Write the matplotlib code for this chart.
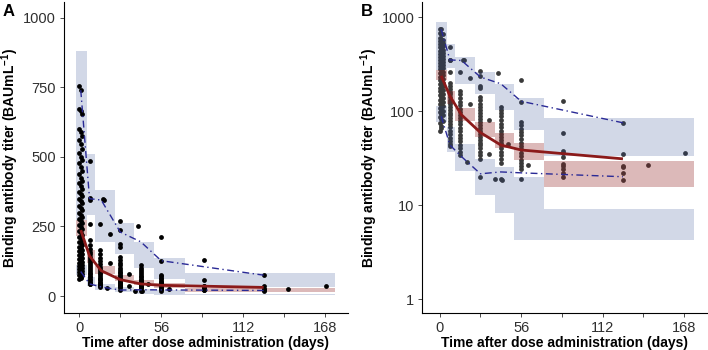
import matplotlib.pyplot as plt
from matplotlib.ticker import FixedLocator, FixedFormatter, NullLocator

plt.rcParams['font.family'] = ['Liberation Sans', 'DejaVu Sans']
plt.rcParams['mathtext.default'] = 'regular'

# VPC bins (days) and prediction-interval CIs
bin_lo = [-2.3, 5, 10.5, 24.5, 37.7, 51.4, 72]
bin_hi = [5, 10.5, 24.5, 37.7, 51.4, 72, 175]
p95_ci_lo = [275, 290, 195, 152, 102, 63, 33]
p95_ci_hi = [880, 512, 380, 262, 194, 137, 84]
p50_ci_lo = [215, 118, 79, 53, 40, 30, 15.7]
p50_ci_hi = [273, 165, 107, 77, 59, 46, 29.4]
p05_ci_lo = [77, 37, 23, 12.8, 8.2, 4.2, 4.2]
p05_ci_hi = [113, 68, 45, 31, 25.6, 20, 9.0]

# observed percentiles
obs_t = [1, 7, 15, 28, 42, 56, 126]
obs_p95 = [740, 350, 345, 230, 195, 127, 75]
obs_p50 = [237, 144, 91, 59, 43.5, 38.5, 31]
obs_p05 = [88, 43.5, 32.7, 21.5, 22.5, 22, 20]

# observed titers, grouped by sampling day
v_d0 = [755, 672, 600, 560, 515, 478, 440, 405, 375, 350, 325, 300, 278, 255,
        233, 213, 195, 178, 162, 147, 132, 120, 108, 97, 86, 74, 62]
v_d1 = [740, 665, 590, 545, 500, 465, 425, 395, 368, 342, 318, 292, 270, 248,
        226, 207, 190, 172, 157, 142, 128, 116, 104, 93, 82, 70, 66]
v_d2 = [655, 575, 530, 488, 450, 415, 385, 360, 335, 310, 285, 262, 240, 220,
        200, 184, 167, 152, 137, 124, 112, 100, 90, 78]
v_d7 = [485, 352, 346, 258, 200, 185, 170, 160, 150, 140, 132, 125, 118, 110,
        103, 96, 90, 84, 78, 72, 67, 62, 57, 52, 48, 45, 42]
v_d14 = [258, 165, 150, 138, 125, 115, 105, 98, 90, 84, 78, 72, 66, 61, 56,
         52, 48, 44, 40, 37, 34]
v_d28 = [268, 236, 186, 176, 142, 131, 120, 110, 102, 95, 88, 82, 76, 71, 66,
         61, 57, 53, 49, 46, 43, 40, 37, 34, 31, 20]
v_d42 = [111, 102, 95, 88, 80, 73, 67, 62, 57, 53, 49, 46, 43, 40, 37, 34,
         31, 28, 19]
v_d56 = [212, 126, 77, 71, 65, 60, 55, 50, 46, 42, 39, 36, 33, 30, 28, 26,
         24, 19]
v_d84 = [128, 59, 37.6, 35.6, 32.6, 27.3, 26, 23.9, 22, 20]
v_d126 = [75, 34.8, 25.1, 26, 21.7, 18.5]
extra_t = [16, 17, 19, 21, 21, 34, 34, 38, 40, 43, 47, 61, 143, 169]
extra_v = [348, 345, 29, 222, 118, 80, 35, 19, 252, 18.4, 44.5, 26.6, 26.6, 35.4]

groups = [(0, v_d0), (1, v_d1), (2, v_d2), (7, v_d7), (14, v_d14),
          (28, v_d28), (42, v_d42), (56, v_d56), (85, v_d84), (126, v_d126)]
pts_t, pts_v = [], []
for d, vals in groups:
    pts_t += [d] * len(vals)
    pts_v += vals
pts_t += extra_t
pts_v += extra_v

blue = '#1F3C88'
red = '#8B1A1A'
navy = '#2A2A96'
tick_col = '#303030'

fig = plt.figure(figsize=(7.08, 3.5), dpi=100)
axA = fig.add_axes([63.5 / 708, 37 / 350, (348 - 63.5) / 708, 311 / 350])
axB = fig.add_axes([422 / 708, 37 / 350, (707 - 422) / 708, 311 / 350])


def draw(ax, pt_color, rect_z):
    w = [h - l for l, h in zip(bin_lo, bin_hi)]
    for lo, hi, col, a in [(p95_ci_lo, p95_ci_hi, blue, 0.2),
                           (p05_ci_lo, p05_ci_hi, blue, 0.2),
                           (p50_ci_lo, p50_ci_hi, red, 0.3)]:
        ax.bar(bin_lo, [h - l for l, h in zip(lo, hi)], bottom=lo, width=w,
               align='edge', color=col, alpha=a, linewidth=0, zorder=rect_z)
    ax.scatter(pts_t, pts_v, s=12, color=pt_color, linewidths=0, zorder=2)
    ax.plot(obs_t, obs_p95, color=navy, lw=1.0, ls=(0, (5, 2.5, 1, 2.5)), zorder=4)
    ax.plot(obs_t, obs_p05, color=navy, lw=1.0, ls=(0, (5, 2.5, 1, 2.5)), zorder=4)
    ax.plot(obs_t, obs_p50, color=red, lw=2.0, zorder=5, solid_capstyle='butt')

    for s in ['top', 'right']:
        ax.spines[s].set_visible(False)
    for s in ['left', 'bottom']:
        ax.spines[s].set_linewidth(0.8)
    ax.xaxis.set_major_locator(FixedLocator([0, 28, 56, 84, 112, 140, 168]))
    ax.xaxis.set_major_formatter(FixedFormatter(['0', '', '56', '', '112', '', '168']))
    ax.tick_params(axis='both', labelsize=10.5, labelcolor=tick_col, color=tick_col,
                   length=3, width=0.6, pad=2.5)
    ax.set_xlabel('Time after dose administration (days)', fontsize=10,
                  fontweight='bold', labelpad=1)
    ax.set_ylabel('Binding antibody titer (BAUmL$^{-1}$)', fontsize=10,
                  fontweight='bold')
    ax.yaxis.set_label_coords(-0.148, 0.5)


draw(axA, 'black', 1)
axA.set_xlim(-10.8, 183.7)
axA.set_ylim(-61, 1057)
axA.yaxis.set_major_locator(FixedLocator([0, 250, 500, 750, 1000]))

draw(axB, '#3a3a3a', 3)
axB.set_yscale('log')
axB.set_xlim(-12.2, 183.8)
axB.set_ylim(0.71, 1446)
axB.yaxis.set_major_locator(FixedLocator([1, 10, 100, 1000]))
axB.yaxis.set_major_formatter(FixedFormatter(['1', '10', '100', '1000']))
axB.yaxis.set_minor_locator(NullLocator())

fig.text(3 / 708, 1 - 4 / 350, 'A', fontsize=12, fontweight='bold', va='top')
fig.text(361 / 708, 1 - 4 / 350, 'B', fontsize=12, fontweight='bold', va='top')

fig.savefig('out.png', dpi=100)
